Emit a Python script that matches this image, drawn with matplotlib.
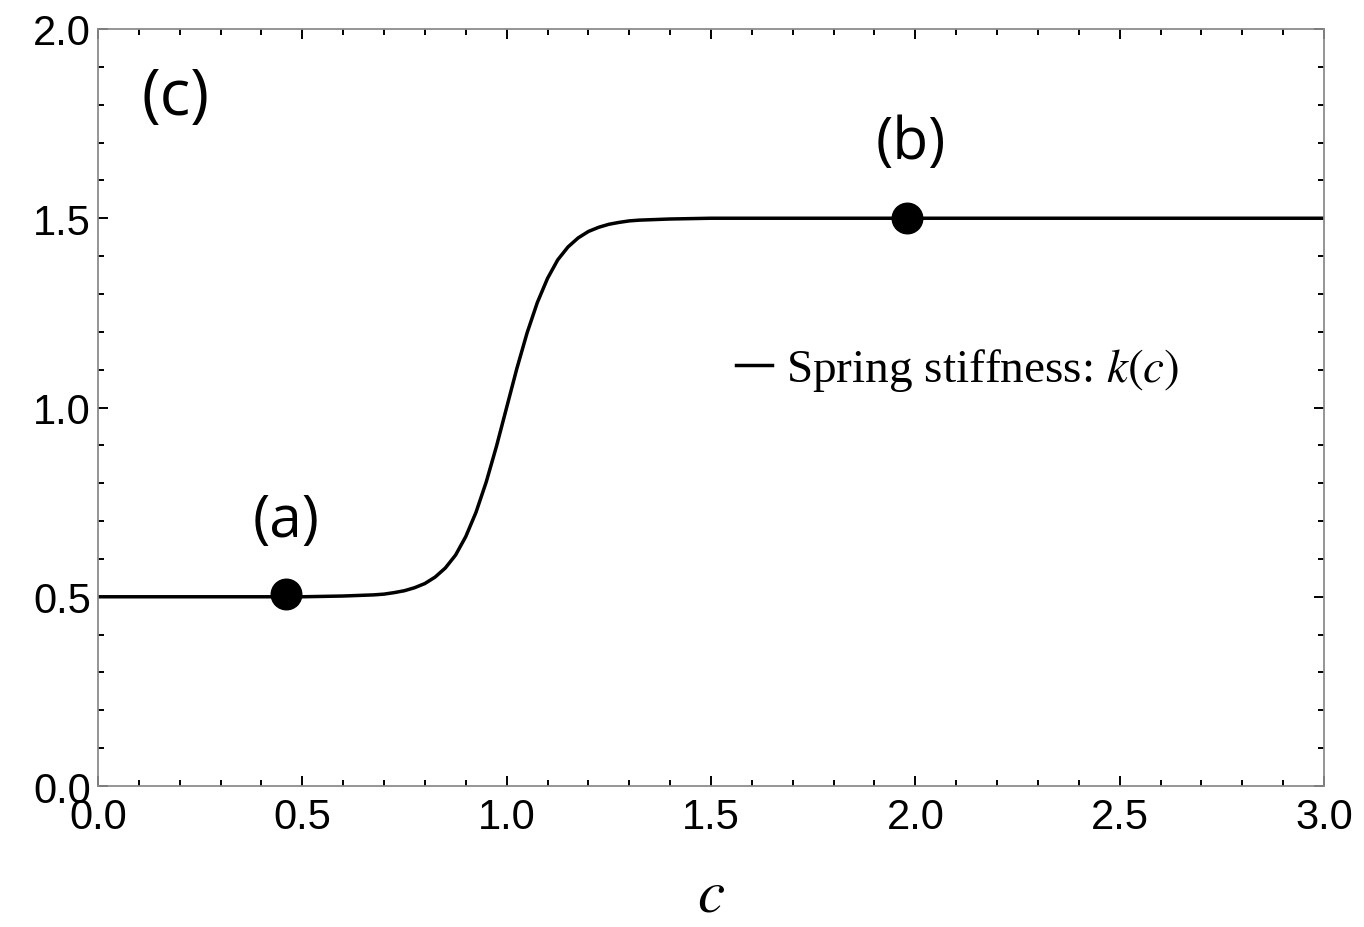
import numpy as np
import matplotlib
matplotlib.use('Agg')
import matplotlib.pyplot as plt
from matplotlib.ticker import MultipleLocator

# spring stiffness k(c)
c_vals = [0.0, 0.5, 0.6, 0.625, 0.65, 0.675, 0.7, 0.725, 0.75, 0.775, 0.8, 0.825,
          0.85, 0.875, 0.9, 0.925, 0.95, 0.975, 1.0, 1.025, 1.05, 1.075, 1.1,
          1.125, 1.15, 1.175, 1.2, 1.225, 1.25, 1.275, 1.3, 1.325, 1.35, 1.375,
          1.4, 1.5, 2.0, 3.0]
k_vals = [0.5, 0.5, 0.502, 0.503, 0.504, 0.505, 0.507, 0.511, 0.516, 0.524, 0.535,
          0.552, 0.576, 0.61, 0.659, 0.723, 0.803, 0.897, 1.0, 1.103, 1.197,
          1.277, 1.341, 1.39, 1.424, 1.448, 1.465, 1.476, 1.484, 1.489, 1.493,
          1.495, 1.496, 1.497, 1.498, 1.5, 1.5, 1.5]

# marked states
pt_c = [0.46, 1.98]
pt_k = [0.507, 1.5]
pt_labels = ['(a)', '(b)']
pt_label_pos = [(0.46, 0.7), (1.99, 1.7)]

plt.rcParams['mathtext.fontset'] = 'stix'


def main():
    fig = plt.figure(figsize=(13.64, 9.28), dpi=100)
    ax = fig.add_axes([0.0718, 0.1519, 0.8989, 0.8158])

    ax.plot(c_vals, k_vals, c='black', linewidth=2.5,
            label='Spring stiffness: $k(c)$', solid_joinstyle='round')
    ax.plot(pt_c, pt_k, 'o', c='black', markersize=22, zorder=3)

    for lab, (x, y) in zip(pt_labels, pt_label_pos):
        ax.text(x, y, lab, fontsize=42, family='Open Sans', ha='center', va='center')
    ax.text(0.19, 1.82, '(c)', fontsize=46, family='Open Sans', ha='center', va='center')

    ax.set_xlim(0, 3)
    ax.set_ylim(0, 2)
    ax.xaxis.set_major_locator(MultipleLocator(0.5))
    ax.xaxis.set_minor_locator(MultipleLocator(0.1))
    ax.yaxis.set_major_locator(MultipleLocator(0.5))
    ax.yaxis.set_minor_locator(MultipleLocator(0.1))
    ax.xaxis.set_major_formatter(lambda v, p: '{:.1f}'.format(v))
    ax.yaxis.set_major_formatter(lambda v, p: '{:.1f}'.format(v))

    ax.tick_params(which='both', direction='in', top=True, right=True,
                   width=1.4, color='black')
    ax.tick_params(which='major', length=7, labelsize=30)
    ax.tick_params(which='minor', length=4.5)
    ax.tick_params(axis='y', pad=5)
    ax.tick_params(axis='x', pad=8)
    for lab in ax.get_xticklabels() + ax.get_yticklabels():
        lab.set_family('Liberation Sans')
    for sp in ax.spines.values():
        sp.set_color('#8c8c8c')
        sp.set_linewidth(1.3)

    ax.set_xlabel('$c$', fontsize=44, labelpad=20)

    ax.legend(loc='center left', bbox_to_anchor=(0.486, 0.55), frameon=False,
              handlelength=0.75, handletextpad=0.3,
              prop={'family': 'Liberation Serif', 'size': 34})

    plt.savefig('out.png', dpi=100)


if __name__ == '__main__':
    main()
